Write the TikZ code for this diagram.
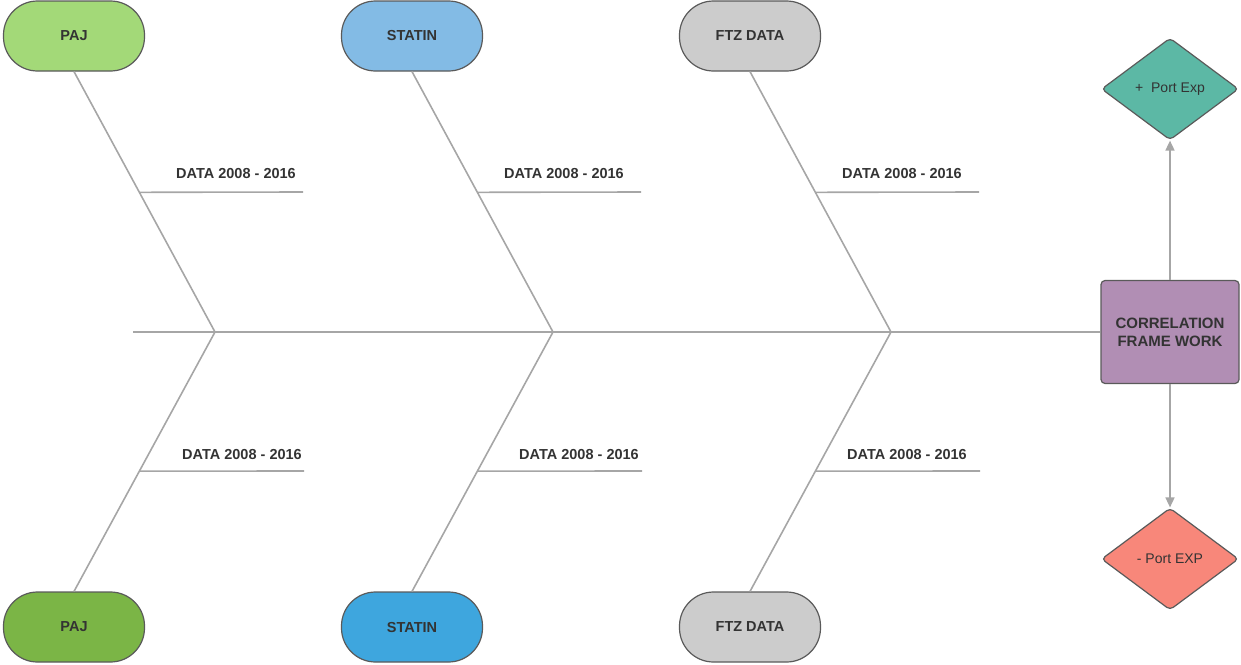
\documentclass[tikz,border=0pt]{standalone}
\usepackage{fontspec}
\setmainfont{Liberation Sans}
\usetikzlibrary{shapes.geometric,arrows.meta,calc}

\definecolor{pajlight}{HTML}{A3D978}
\definecolor{pajdark}{HTML}{7BB546}
\definecolor{statlight}{HTML}{83BBE5}
\definecolor{statdark}{HTML}{3EA6DE}
\definecolor{ftzgrey}{HTML}{CCCCCC}
\definecolor{corrpurple}{HTML}{B18EB4}
\definecolor{plusteal}{HTML}{5CB8A5}
\definecolor{minussalmon}{HTML}{F8877A}
\definecolor{bone}{HTML}{A6A6A6}
\definecolor{edge}{HTML}{5A5A5A}
\definecolor{ink}{HTML}{333333}

\tikzset{
  pill/.style={draw=edge, line width=1.2pt, rounded corners=34pt,
    minimum width=141pt, minimum height=70pt, text=ink,
    font=\fontsize{14.5}{17}\selectfont\bfseries},
  rib/.style={draw=bone, line width=1.6pt},
  ribtext/.style={text=ink, font=\fontsize{14.5}{17}\selectfont\bfseries, inner sep=0pt},
  outcome/.style={diamond, draw=edge, line width=1.2pt, rounded corners=4pt,
    minimum width=137pt, minimum height=102pt, text=ink, inner sep=1pt,
    font=\fontsize{14}{17}\selectfont},
  flow/.style={draw=bone, line width=1.6pt, -{Triangle[width=9pt,length=10pt]}}
}

\begin{document}
\begin{tikzpicture}[x=1pt,y=-1pt]
  \useasboundingbox (0,0) rectangle (1241,664);
  % effect box and outcomes
  \node[draw=edge, line width=1.2pt, rounded corners=4pt, fill=corrpurple,
    minimum width=138pt, minimum height=103pt, text=ink, align=center,
    font=\fontsize{15}{18}\selectfont\bfseries] (corr) at (1170,332)
    {CORRELATION\\FRAME WORK};
  \node[outcome, fill=plusteal] (plus) at (1170,89) {+\ \ Port Exp};
  \node[outcome, fill=minussalmon] (minus) at (1170,559) {- Port EXP};
  \draw[flow] (corr.north) -- (plus.south);
  \draw[flow] (corr.south) -- (minus.north);
  %
  % spine
  \coordinate (tail) at (133,332);
  \draw[rib] (tail) -- (corr.west);
  %
  % bones
  \foreach \i/\x/\topname/\topcol/\botcol/\tx/\bx in
    {1/74/PAJ/pajlight/pajdark/236/242,
     2/412/STATIN/statlight/statdark/564/579,
     3/750/FTZ DATA/ftzgrey/ftzgrey/902/907}
  {
    \node[pill, fill=\topcol] (top\i) at (\x,36) {\topname};
    \node[pill, fill=\botcol] (bot\i) at (\x,627) {\topname};
    \coordinate (j\i) at (\x+141,332);
    \draw[rib] (top\i.south) -- (j\i);
    \draw[rib] (bot\i.north) -- (j\i);
    \coordinate (ta\i) at ($(top\i.south)!0.4636!(j\i)$);
    \coordinate (ba\i) at ($(bot\i.north)!0.4636!(j\i)$);
    \coordinate (tb\i) at (\x+229,192);
    \coordinate (bb\i) at (\x+230,471);
    \draw[rib] (ta\i) -- (tb\i);
    \draw[rib] (ba\i) -- (bb\i);
    \node[ribtext] (tl\i) at (\tx,174) {DATA 2008 - 2016};
    \node[ribtext] (bl\i) at (\bx,454) {DATA 2008 - 2016};
  }
\end{tikzpicture}
\end{document}
